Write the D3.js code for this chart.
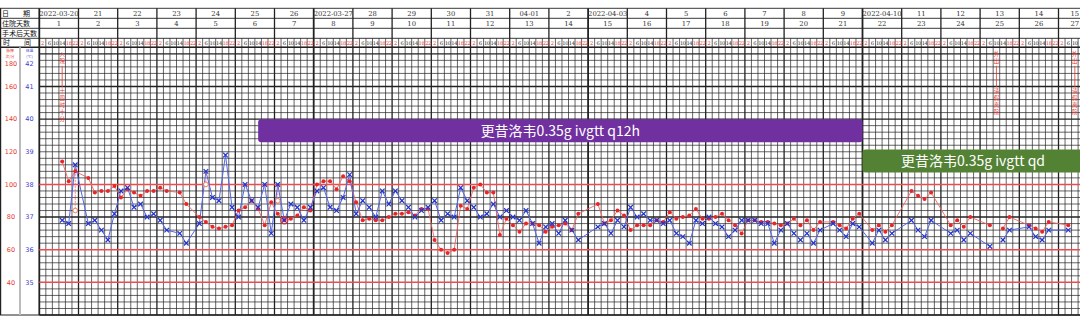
<!DOCTYPE html>
<html>
<head>
<meta charset="utf-8">
<script src="https://cdn.jsdelivr.net/npm/d3@7"></script>
<style>
  body { margin: 0; background: #fff; }
  svg { display: block; font-family: "Noto Sans CJK SC", "DejaVu Sans", sans-serif; }
</style>
</head>
<body>
<svg width="1080" height="326"></svg>
<script>
// dates / day counters shown in the header
const dates = ["2022-03-20","21","22","23","24","25","26",
  "2022-03-27","28","29","30","31","04-01","2",
  "2022-04-03","4","5","6","7","8","9",
  "2022-04-10","11","12","13","14","15"];
const hospitalDays = ["1","2","3","4","5","6","7","8","9","10","11","12","13","14",
  "15","16","17","18","19","20","21","22","23","24","25","26","27"];
const timeLabels = ["2","6","10","14","18","22"];
const rowLabels = ["日　　期", "住院天数", "手术后天数", "时　　间"];
const pulseTicks = [180, 160, 140, 120, 100, 80, 60, 40];
const tempTicks = [42, 41, 40, 39, 38, 37, 36, 35];

// [slot index (6 per day), value]; null = interrupted
const temperature = [
  [3,36.9],[4,36.8],[5,38.6],[7,36.8],[8,36.9],[9,36.6],[10,36.3],[11,37.1],[12,37.8],[13,37.9],
  [14,37.3],[15,37.4],[16,37.0],[17,37.1],[18,36.9],[19,36.6],[21,36.5],[22,36.2],[24,36.8],[25,38.4],
  [26,37.6],[27,37.5],[28,38.9],[29,37.3],[30,37.0],[31,38.0],[32,37.5],[33,37.3],[34,38.0],[35,36.5],
  [36,38.0],[37,36.9],[38,37.4],[39,37.3],[40,36.9],[41,37.3],
  [42,37.8],[43,37.9],[44,37.3],[45,37.2],[46,37.6],[47,38.3],[48,37.1],[49,37.5],[50,37.3],[51,37.0],
  [52,37.8],[53,37.4],[54,37.8],[55,37.5],[56,37.3],[57,37.0],[58,37.2],[59,37.3],[60,37.5],[61,36.9],
  [62,37.1],[63,37.0],[64,37.9],[65,37.5],[66,37.3],[67,37.0],[68,37.1],[69,37.4],[70,37.0],[71,37.2],
  [72,37.0],[73,36.9],[74,37.2],[75,36.8],[76,36.2],[77,36.7],[78,36.8],[79,36.5],[80,36.9],[81,36.6],[82,36.3],
  [85,36.7],[86,36.8],[87,36.5],[88,36.9],[89,36.7],[90,37.3],[91,37.0],[92,37.1],[93,36.9],[94,36.9],
  [95,36.8],[96,36.9],[97,36.5],[98,36.4],[99,36.2],[100,36.9],[101,36.8],[102,37.0],[103,36.8],[104,36.7],
  [105,36.4],[106,36.6],[107,36.9],[108,36.9],[109,36.9],[110,36.8],[111,36.8],[112,36.2],[113,36.6],[114,36.8],
  [115,36.5],[116,36.3],[117,36.5],[118,36.2],[119,36.6],[121,36.8],[122,36.6],[123,36.4],[124,36.8],[125,36.7],
  [127,36.2],[128,36.6],[129,36.3],[130,36.5],[133,36.9],[134,36.6],[135,36.4],[136,36.9],[139,36.5],[140,36.6],
  [141,36.3],[142,36.5],[145,36.1],[146,null],[147,36.3],[148,36.6],[151,36.7],[152,36.4],[153,36.3],[154,36.6],[157,36.6]
];
const pulse = [
  [3,114],[4,102],[5,108],[7,104],[8,95],[9,96],[10,96],[11,99],[12,92],[13,97],
  [14,95],[15,93],[16,96],[17,96],[18,98],[19,96],[21,95],[22,88],[24,80],[25,77],
  [26,74],[27,73],[28,74],[29,75],[30,84],[31,86],[32,90],[33,85],[34,75],[35,89],
  [36,82],[37,78],[38,79],[39,81],[40,86],[41,84],
  [42,100],[43,102],[44,102],[45,97],[46,105],[47,102],[48,89],[49,78],[50,79],[51,78],
  [52,78],[53,80],[54,82],[55,82],[56,83],[57,81],[58,85],[59,85],[60,66],[61,60],
  [62,58],[63,60],[64,87],[65,85],[66,98],[67,100],[68,95],[69,95],[70,69],[71,79],
  [72,75],[73,71],[74,76],[75,76],[76,75],[77,71],[78,74],[79,75],[80,76],[81,72],[82,82],
  [85,88],[86,76],[87,78],[88,84],[89,81],[90,72],[91,75],[92,75],[93,75],[94,78],
  [95,77],[96,83],[97,79],[98,80],[99,81],[100,85],[101,79],[102,79],[103,80],[104,82],
  [105,78],[106,75],[107,70],[108,78],[109,78],[110,77],[111,77],[112,76],[113,75],[114,76],
  [115,79],[116,75],[117,78],[118,72],[119,77],[121,77],[122,75],[123,73],[124,79],[125,82],
  [127,72],[128,75],[129,71],[130,75],[133,96],[134,93],[135,91],[136,95],[139,75],[140,78],
  [141,74],[142,80],[145,75],[146,null],[147,73],[148,80],[151,75],[152,73],[153,71],[154,77],[157,75]
];
// temperature re-taken after cooling: [slot, value]
const cooled = [[5,37.2],[25,38.0],[36,37.5]];
// pulse and temperature at the same spot
const coincide = [[37,36.9]];
// vertical notes in the grid
const noteSlots = [3, 146, 158];
const noteHead = ["入院", "外出", "外出"];
const noteTail = ["十四时十分", "请假离院", "请假离院"];
// drug banners
const drugs = ["更昔洛韦0.35g ivgtt q12h", "更昔洛韦0.35g ivgtt qd"];
const drugFrom = [33.5, 126];
const drugTo = [126, 160];
const drugLevel = [39.64, 38.72];

const W = 1080;
const svg = d3.select("svg");
const gridLeft = 39.3, gridTop = 47.3, gridBottom = 315;
const rowY = [8.3, 18.3, 28.3, 38.3, gridTop];
const nSlots = dates.length * 6;

const x = d3.scaleLinear().domain([0, nSlots]).range([gridLeft, gridLeft + dates.length * 39.2]);
const y = d3.scaleLinear().domain([34, 42.2]).range([gridBottom, gridTop]);
const yP = d3.scaleLinear().domain([20, 184]).range([gridBottom, gridTop]);

svg.append("clipPath").attr("id", "clip")
  .append("rect").attr("x", 0).attr("y", 0).attr("width", W).attr("height", 326);
const g = svg.append("g").attr("clip-path", "url(#clip)");

// ---- horizontal grid
const hLines = d3.range(0, 42).map(i => +(34 + i * 0.2).toFixed(1));
const redT = [38, 36, 35];
g.append("g").selectAll("line")
  .data(hLines.filter(t => !redT.includes(t)))
  .join("line")
  .attr("x1", gridLeft).attr("x2", W)
  .attr("y1", d => y(d)).attr("y2", d => y(d))
  .attr("stroke", "#222")
  .attr("stroke-width", d => Number.isInteger(d) && d !== 39 ? 1.4 : 0.7);

// ---- vertical grid
g.append("g").selectAll("line")
  .data(d3.range(0, nSlots + 1))
  .join("line")
  .attr("x1", d => x(d)).attr("x2", d => x(d))
  .attr("y1", d => d % 6 === 0 ? rowY[0] : rowY[3])
  .attr("y2", gridBottom)
  .attr("stroke", "#222")
  .attr("stroke-width", d => d % 42 === 0 ? 1.8 : d % 6 === 0 ? 1.3 : 0.7);

// red reference lines
g.append("g").selectAll("line")
  .data(redT)
  .join("line")
  .attr("x1", gridLeft).attr("x2", W)
  .attr("y1", d => y(d)).attr("y2", d => y(d))
  .attr("stroke", "#f24a4a").attr("stroke-width", 1.5);

// ---- header rows
g.append("g").selectAll("line")
  .data(rowY)
  .join("line")
  .attr("x1", 0).attr("x2", W)
  .attr("y1", d => d).attr("y2", d => d)
  .attr("stroke", "#222").attr("stroke-width", (d, i) => i === 4 ? 1.4 : 0.9);
g.append("line").attr("x1", 0).attr("x2", W).attr("y1", gridBottom).attr("y2", gridBottom)
  .attr("stroke", "#222").attr("stroke-width", 1);
g.append("line").attr("x1", 0.6).attr("x2", 0.6).attr("y1", rowY[0]).attr("y2", gridBottom)
  .attr("stroke", "#222").attr("stroke-width", 1.2);
g.append("line").attr("x1", 20).attr("x2", 20).attr("y1", gridTop).attr("y2", gridBottom)
  .attr("stroke", "#bbb").attr("stroke-width", 2);

svg.append("g").selectAll("text")
  .data(rowLabels)
  .join("text")
  .attr("x", (d, i) => i === 3 ? 3 : 2)
  .attr("y", (d, i) => i === 3 ? 45 : (rowY[i] + rowY[i + 1]) / 2 + 3)
  .attr("font-size", 7)
  .attr("fill", "#111")
  .text(d => d);

// keep header labels of the last, cut-off day inside the picture
const fitX = (cx, half) => Math.min(cx, W - half - 1);
const header = g.append("g").attr("font-family", "'DejaVu Serif', serif").attr("fill", "#333");
header.selectAll(".date")
  .data(dates)
  .join("text")
  .attr("class", "date")
  .attr("x", (d, i) => fitX(x(i * 6 + 3), d.length * 2.1))
  .attr("y", rowY[0] + 7.4)
  .attr("text-anchor", "middle")
  .attr("font-size", 6.8)
  .text(d => d);
header.selectAll(".hday")
  .data(hospitalDays)
  .join("text")
  .attr("class", "hday")
  .attr("x", (d, i) => fitX(x(i * 6 + 3), d.length * 2.1))
  .attr("y", rowY[1] + 7.4)
  .attr("text-anchor", "middle")
  .attr("font-size", 6.8)
  .text(d => d);
header.selectAll(".time")
  .data(d3.range(nSlots).filter(k => x(k + 0.5) + 3 < W))
  .join("text")
  .attr("class", "time")
  .attr("x", d => x(d + 0.5))
  .attr("y", rowY[3] + 6.5)
  .attr("text-anchor", "middle")
  .attr("font-size", 5.2)
  .attr("letter-spacing", -0.4)
  .attr("fill", d => [0, 4, 5].includes(d % 6) ? "#e8352f" : "#222")
  .text(d => timeLabels[d % 6]);

// ---- axis labels
const axis = svg.append("g").attr("text-anchor", "middle");
axis.append("text").attr("x", 10).attr("y", 52).attr("font-size", 3.8).attr("fill", "#e8352f").text("脉搏");
axis.append("text").attr("x", 10).attr("y", 57.6).attr("font-size", 3.8).attr("fill", "#e8352f").text("次/分");
axis.append("text").attr("x", 29.5).attr("y", 52).attr("font-size", 3.8).attr("fill", "#3b3bd6").text("体温");
axis.append("text").attr("x", 29.5).attr("y", 57.6).attr("font-size", 3.8).attr("fill", "#3b3bd6").text("(℃)");
const ticks = axis.append("g").attr("font-family", "'DejaVu Sans', sans-serif").attr("font-size", 6.5);
ticks.selectAll(".pt")
  .data(pulseTicks)
  .join("text")
  .attr("class", "pt")
  .attr("x", 11)
  .attr("y", d => Math.max(yP(d) + 2.3, 66))
  .attr("fill", "#e8352f")
  .text(d => d);
ticks.selectAll(".tt")
  .data(tempTicks)
  .join("text")
  .attr("class", "tt")
  .attr("x", 29.5)
  .attr("y", d => Math.max(y(d) + 2.3, 66))
  .attr("fill", "#3b3bd6")
  .text(d => d);

// ---- vertical notes
const notes = g.append("g").attr("fill", "#e8352f").attr("font-size", 5.5).attr("text-anchor", "middle");
noteSlots.forEach((s, i) => {
  const cx = x(s + 0.5);
  let cy = gridTop + 9;
  Array.from(noteHead[i]).forEach(ch => {
    notes.append("text").attr("x", cx).attr("y", cy).text(ch);
    cy += 7;
  });
  notes.append("line").attr("x1", cx).attr("x2", cx).attr("y1", cy - 4.5).attr("y2", cy + 17)
    .attr("stroke", "#e8352f").attr("stroke-width", 0.8);
  cy += 23;
  Array.from(noteTail[i]).forEach(ch => {
    notes.append("text").attr("x", cx).attr("y", cy).text(ch);
    cy += 7;
  });
});

// ---- drug banners
const banners = g.append("g");
drugs.forEach((d, i) => {
  const x0 = x(drugFrom[i]), x1 = x(drugTo[i]);
  const yc = y(drugLevel[i]);
  banners.append("rect")
    .attr("x", x0).attr("y", yc - 11.5)
    .attr("width", x1 - x0).attr("height", 23)
    .attr("rx", 3)
    .attr("fill", i === 0 ? "#7030a0" : "#548235");
  banners.append("text")
    .attr("x", i === 0 ? (x0 + x1) / 2 : 973)
    .attr("y", yc + 5)
    .attr("text-anchor", "middle")
    .attr("font-size", 14)
    .attr("fill", "#fff")
    .text(d);
});

// ---- series
const slotX = d => x(d[0] + 0.5);
const defined = d => d[1] != null;
g.append("path")
  .datum(pulse)
  .attr("d", d3.line().defined(defined).x(slotX).y(d => yP(d[1])))
  .attr("fill", "none").attr("stroke", "#f26464").attr("stroke-width", 0.9);
g.append("path")
  .datum(temperature)
  .attr("d", d3.line().defined(defined).x(slotX).y(d => y(d[1])))
  .attr("fill", "none").attr("stroke", "#5366e8").attr("stroke-width", 1);

// cooling
const tempMap = new Map(temperature.filter(defined));
g.append("g").selectAll("line")
  .data(cooled)
  .join("line")
  .attr("x1", slotX).attr("x2", slotX)
  .attr("y1", d => y(tempMap.get(d[0]))).attr("y2", d => y(d[1]))
  .attr("stroke", "#f26464").attr("stroke-width", 0.8).attr("stroke-dasharray", "2,1");
g.append("g").selectAll("circle")
  .data(cooled)
  .join("circle")
  .attr("cx", slotX).attr("cy", d => y(d[1])).attr("r", 2.3)
  .attr("fill", "#fff").attr("stroke", "#f07050").attr("stroke-width", 0.9);

g.append("g").selectAll("circle")
  .data(pulse.filter(defined))
  .join("circle")
  .attr("cx", slotX).attr("cy", d => yP(d[1])).attr("r", 2)
  .attr("fill", "#e8262a");

g.append("g").selectAll("path")
  .data(temperature.filter(defined))
  .join("path")
  .attr("d", d => {
    const cx = slotX(d), cy = y(d[1]), r = 2.3;
    return `M${cx - r},${cy - r}L${cx + r},${cy + r}M${cx - r},${cy + r}L${cx + r},${cy - r}`;
  })
  .attr("stroke", "#2233cc").attr("stroke-width", 1.2);

g.append("g").selectAll("circle")
  .data(coincide)
  .join("circle")
  .attr("cx", slotX).attr("cy", d => y(d[1])).attr("r", 3.6)
  .attr("fill", "none").attr("stroke", "#e8262a").attr("stroke-width", 1.1);
</script>
</body>
</html>
